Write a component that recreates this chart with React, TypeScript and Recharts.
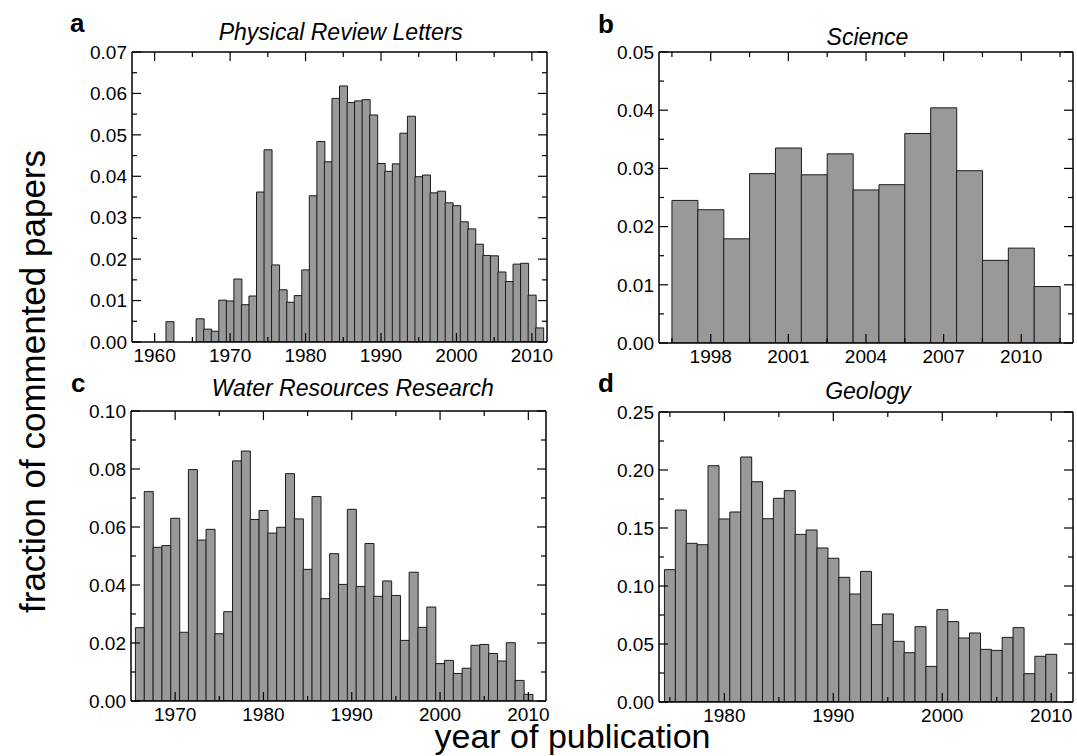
import React from "react";
import { BarChart, Bar, XAxis, YAxis } from "recharts";

const FONT = '"Liberation Sans", Arial, Helvetica, sans-serif';

// a: Physical Review Letters
const prlYears = [
  1962, 1966, 1967, 1968, 1969, 1970, 1971, 1972, 1973, 1974, 1975, 1976, 1977,
  1978, 1979, 1980, 1981, 1982, 1983, 1984, 1985, 1986, 1987, 1988, 1989, 1990,
  1991, 1992, 1993, 1994, 1995, 1996, 1997, 1998, 1999, 2000, 2001, 2002, 2003,
  2004, 2005, 2006, 2007, 2008, 2009, 2010, 2011,
];
const prlValues = [
  0.0049, 0.0056, 0.0031, 0.0026, 0.0101, 0.0099, 0.0152, 0.009, 0.0111, 0.0362,
  0.0464, 0.0186, 0.0126, 0.0096, 0.0112, 0.0174, 0.0353, 0.0484, 0.0435, 0.0588,
  0.0618, 0.0578, 0.0582, 0.0585, 0.0548, 0.0431, 0.0412, 0.043, 0.0504, 0.0545,
  0.0399, 0.0403, 0.036, 0.0364, 0.0336, 0.0329, 0.029, 0.0273, 0.0236, 0.0209,
  0.0208, 0.0169, 0.0146, 0.0188, 0.019, 0.0113, 0.0034,
];

// b: Science
const sciYears = [
  1997, 1998, 1999, 2000, 2001, 2002, 2003, 2004, 2005, 2006, 2007, 2008, 2009,
  2010, 2011,
];
const sciValues = [
  0.0245, 0.0229, 0.0179, 0.0291, 0.0335, 0.0289, 0.0325, 0.0263, 0.0272, 0.036,
  0.0404, 0.0296, 0.0142, 0.0163, 0.0097,
];

// c: Water Resources Research
const wrrYears = [
  1966, 1967, 1968, 1969, 1970, 1971, 1972, 1973, 1974, 1975, 1976, 1977, 1978,
  1979, 1980, 1981, 1982, 1983, 1984, 1985, 1986, 1987, 1988, 1989, 1990, 1991,
  1992, 1993, 1994, 1995, 1996, 1997, 1998, 1999, 2000, 2001, 2002, 2003, 2004,
  2005, 2006, 2007, 2008, 2009, 2010,
];
const wrrValues = [
  0.0253, 0.0722, 0.053, 0.0536, 0.063, 0.0237, 0.0798, 0.0555, 0.0592, 0.0232,
  0.0308, 0.0828, 0.0862, 0.0626, 0.0657, 0.0579, 0.0599, 0.0784, 0.0628, 0.0454,
  0.0705, 0.0353, 0.0508, 0.0402, 0.0661, 0.0395, 0.0543, 0.0361, 0.0414, 0.0364,
  0.0209, 0.0444, 0.0254, 0.0324, 0.0129, 0.014, 0.0095, 0.0113, 0.0192, 0.0195,
  0.0164, 0.0138, 0.0201, 0.0071, 0.0023,
];

// d: Geology
const geoYears = [
  1975, 1976, 1977, 1978, 1979, 1980, 1981, 1982, 1983, 1984, 1985, 1986, 1987,
  1988, 1989, 1990, 1991, 1992, 1993, 1994, 1995, 1996, 1997, 1998, 1999, 2000,
  2001, 2002, 2003, 2004, 2005, 2006, 2007, 2008, 2009, 2010,
];
const geoValues = [
  0.1141, 0.1655, 0.1368, 0.1356, 0.2037, 0.1578, 0.1638, 0.2112, 0.1899, 0.158,
  0.1756, 0.1822, 0.1445, 0.1483, 0.1328, 0.1239, 0.1075, 0.0931, 0.1126, 0.0667,
  0.0759, 0.0523, 0.0425, 0.0649, 0.0307, 0.0796, 0.0693, 0.0552, 0.0595, 0.0454,
  0.0445, 0.0557, 0.0641, 0.0244, 0.0394, 0.0411,
];

// axis ticks
const prlXMajor = [1960, 1970, 1980, 1990, 2000, 2010];
const prlXMinor = [1965, 1975, 1985, 1995, 2005];
const prlYMajor = [0, 0.01, 0.02, 0.03, 0.04, 0.05, 0.06, 0.07];
const prlYMinor = [0.005, 0.015, 0.025, 0.035, 0.045, 0.055, 0.065];

const sciXMajor = [1998, 2001, 2004, 2007, 2010];
const sciXMinor = [1996.5, 1999.5, 2002.5, 2005.5, 2008.5, 2011.5];
const sciYMajor = [0, 0.01, 0.02, 0.03, 0.04, 0.05];
const sciYMinor = [0.005, 0.015, 0.025, 0.035, 0.045];

const wrrXMajor = [1970, 1980, 1990, 2000, 2010];
const wrrXMinor = [1975, 1985, 1995, 2005];
const wrrYMajor = [0, 0.02, 0.04, 0.06, 0.08, 0.1];
const wrrYMinor = [0.01, 0.03, 0.05, 0.07, 0.09];

const geoXMajor = [1980, 1990, 2000, 2010];
const geoXMinor = [1975, 1985, 1995, 2005];
const geoYMajor = [0, 0.05, 0.1, 0.15, 0.2, 0.25];
const geoYMinor = [0.025, 0.075, 0.125, 0.175, 0.225];

const isIn = (arr: number[], v: number) => arr.some((m) => Math.abs(m - v) < 1e-9);

const AXIS_LINE = { stroke: "#000", strokeWidth: 1.5 };

function xTick(major: number[], side: "bottom" | "top") {
  return (props: any) => {
    const { x, y, payload } = props;
    const v = payload.value;
    const big = isIn(major, v);
    const len = big ? 9 : 5;
    const dir = side === "bottom" ? -1 : 1;
    return (
      <g>
        <line x1={x} x2={x} y1={y} y2={y + dir * len} stroke="#000" strokeWidth={1.2} />
        {side === "bottom" && big && (
          <text x={x} y={y + 19.5} textAnchor="middle" fontSize={19} fontFamily={FONT} fill="#000">
            {v}
          </text>
        )}
      </g>
    );
  };
}

function yTick(major: number[], side: "left" | "right") {
  return (props: any) => {
    const { x, y, payload } = props;
    const v = payload.value;
    const big = isIn(major, v);
    const len = big ? 9 : 5;
    const dir = side === "left" ? 1 : -1;
    return (
      <g>
        <line x1={x} x2={x + dir * len} y1={y} y2={y} stroke="#000" strokeWidth={1.2} />
        {side === "left" && big && (
          <text x={x - 5} y={y + 6.7} textAnchor="end" fontSize={19} fontFamily={FONT} fill="#000">
            {v.toFixed(2)}
          </text>
        )}
      </g>
    );
  };
}

type PanelProps = {
  years: number[];
  values: number[];
  xDomain: [number, number];
  yDomain: [number, number];
  xMajor: number[];
  xMinor: number[];
  yMajor: number[];
  yMinor: number[];
  box: { left: number; top: number; width: number; height: number };
};

const M = { top: 12, right: 12, bottom: 30, left: 70 };
const AX = 1; // axis thickness, so the axes still render

function Panel(p: PanelProps) {
  const data = p.years.map((year, i) => ({ year, value: p.values[i] }));
  const xt = [...p.xMajor, ...p.xMinor].sort((a, b) => a - b);
  const yt = [...p.yMajor, ...p.yMinor].sort((a, b) => a - b);
  return (
    <div
      style={{
        position: "absolute",
        left: p.box.left - M.left - AX,
        top: p.box.top - M.top - AX,
      }}
    >
      <BarChart
        width={p.box.width + M.left + M.right + 2 * AX}
        height={p.box.height + M.top + M.bottom + 2 * AX}
        data={data}
        margin={M}
        barCategoryGap={0}
        barGap={0}
      >
        <XAxis
          xAxisId="b"
          dataKey="year"
          type="number"
          domain={p.xDomain}
          allowDataOverflow
          ticks={xt}
          interval={0}
          height={AX}
          tickSize={0}
          tickMargin={0}
          tickLine={false}
          axisLine={AXIS_LINE}
          tick={xTick(p.xMajor, "bottom")}
        />
        <XAxis
          xAxisId="t"
          orientation="top"
          dataKey="year"
          type="number"
          domain={p.xDomain}
          allowDataOverflow
          ticks={xt}
          interval={0}
          height={AX}
          tickSize={0}
          tickMargin={0}
          tickLine={false}
          axisLine={AXIS_LINE}
          tick={xTick(p.xMajor, "top")}
        />
        <YAxis
          yAxisId="l"
          type="number"
          domain={p.yDomain}
          allowDataOverflow
          ticks={yt}
          interval={0}
          width={AX}
          tickSize={0}
          tickMargin={0}
          tickLine={false}
          axisLine={AXIS_LINE}
          tick={yTick(p.yMajor, "left")}
        />
        <YAxis
          yAxisId="r"
          orientation="right"
          type="number"
          domain={p.yDomain}
          allowDataOverflow
          ticks={yt}
          interval={0}
          width={AX}
          tickSize={0}
          tickMargin={0}
          tickLine={false}
          axisLine={AXIS_LINE}
          tick={yTick(p.yMajor, "right")}
        />
        <Bar
          xAxisId="b"
          yAxisId="l"
          dataKey="value"
          fill="#999999"
          stroke="#1a1a1a"
          strokeWidth={1}
          isAnimationActive={false}
        />
      </BarChart>
    </div>
  );
}

export default function App() {
  return (
    <div
      style={{
        position: "absolute",
        left: 0,
        top: 0,
        width: 1077,
        height: 756,
        background: "#fff",
        fontFamily: FONT,
      }}
    >
      <Panel
        years={prlYears}
        values={prlValues}
        xDomain={[1957, 2012]}
        yDomain={[0, 0.07]}
        xMajor={prlXMajor}
        xMinor={prlXMinor}
        yMajor={prlYMajor}
        yMinor={prlYMinor}
        box={{ left: 132, top: 52, width: 415, height: 290 }}
      />
      <Panel
        years={sciYears}
        values={sciValues}
        xDomain={[1996, 2012]}
        yDomain={[0, 0.05]}
        xMajor={sciXMajor}
        xMinor={sciXMinor}
        yMajor={sciYMajor}
        yMinor={sciYMinor}
        box={{ left: 659, top: 52, width: 414, height: 291 }}
      />
      <Panel
        years={wrrYears}
        values={wrrValues}
        xDomain={[1965, 2012]}
        yDomain={[0, 0.1]}
        xMajor={wrrXMajor}
        xMinor={wrrXMinor}
        yMajor={wrrYMajor}
        yMinor={wrrYMinor}
        box={{ left: 131, top: 411, width: 415, height: 290 }}
      />
      <Panel
        years={geoYears}
        values={geoValues}
        xDomain={[1974, 2012]}
        yDomain={[0, 0.25]}
        xMajor={geoXMajor}
        xMinor={geoXMinor}
        yMajor={geoYMajor}
        yMinor={geoYMinor}
        box={{ left: 659, top: 412, width: 414, height: 290 }}
      />
      <svg
        width={1077}
        height={756}
        style={{ position: "absolute", left: 0, top: 0, pointerEvents: "none" }}
        fontFamily={FONT}
      >
        <text x={70} y={32} fontSize={26} fontWeight="bold">a</text>
        <text x={598} y={33} fontSize={26} fontWeight="bold">b</text>
        <text x={71} y={391.5} fontSize={26} fontWeight="bold">c</text>
        <text x={598} y={391.5} fontSize={26} fontWeight="bold">d</text>

        <text x={340.8} y={40} fontSize={23} fontStyle="italic" textAnchor="middle">
          Physical Review Letters
        </text>
        <text x={867.5} y={45} fontSize={23} fontStyle="italic" textAnchor="middle">
          Science
        </text>
        <text x={352.8} y={396} fontSize={23} fontStyle="italic" textAnchor="middle">
          Water Resources Research
        </text>
        <text x={868} y={398.5} fontSize={23} fontStyle="italic" textAnchor="middle">
          Geology
        </text>

        <text x={572.5} y={748} fontSize={34} textAnchor="middle">
          year of publication
        </text>
        <text
          x={45}
          y={381.5}
          fontSize={35}
          textAnchor="middle"
          transform="rotate(-90 45 381.5)"
        >
          fraction of commented papers
        </text>
      </svg>
    </div>
  );
}
